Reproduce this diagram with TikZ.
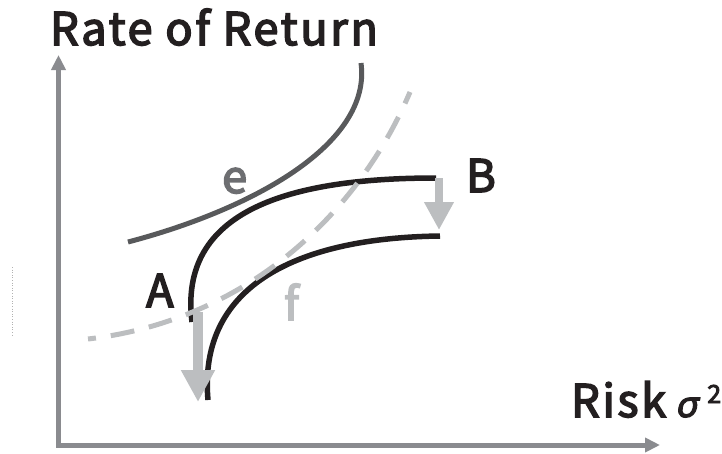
\documentclass[tikz,border=0pt]{standalone}
\usepackage{fontspec}
\setmainfont{Noto Sans CJK JP}
\newfontfamily\labelfont{Noto Sans CJK JP}[FakeBold=3.5, LetterSpace=6]
\newfontfamily\sigmafont{Noto Sans}[FakeSlant=0.2, FakeBold=3.5]
\usetikzlibrary{arrows.meta}

\definecolor{axisgray}{HTML}{8A8B8F}
\definecolor{egray}{HTML}{58595B}
\definecolor{etext}{HTML}{6D6E71}
\definecolor{fgray}{HTML}{BCBEC0}
\definecolor{curveblack}{HTML}{231F20}

\begin{document}
\begin{tikzpicture}[x=1pt,y=-1pt,
    axis/.style={axisgray, line width=5pt, -{Triangle[length=15pt,width=14pt]}},
    frontier/.style={curveblack, line width=5.5pt},
    shift arrow/.style={fgray, line width=10pt, -{Triangle[length=32pt,width=32pt]}},
    lbl/.style={inner sep=0pt, anchor=base west, text=curveblack, font=\labelfont\fontsize{45}{50}\selectfont}]
        \useasboundingbox (0,0) rectangle (722,453);

        % axes
        \coordinate (O) at (58.5,443);
        \coordinate (Y) at (58.5,55);
        \coordinate (X0) at (56,445);
        \coordinate (X) at (660,445);
        \draw[axis] (O) -- (Y);
        \draw[axis] (X0) -- (X);

        % stray guide mark
        \coordinate (g1) at (12,267);
        \coordinate (g2) at (12,336);
        \draw[gray!60, line width=0.6pt, dotted] (g1) -- (g2);

        % indifference curve e
        \coordinate (e1) at (128,242);
        \coordinate (e2) at (361,63);
        \draw[egray, line width=5pt] (e1) .. controls (250,210) and (372,145) .. (e2);

        % frontiers
        \coordinate (A1) at (192,322);
        \coordinate (B1) at (436,178);
        \coordinate (A2) at (208,400);
        \coordinate (B2) at (440,236);
        \draw[frontier] (A1) .. controls (178,210) and (290,178) .. (B1);
        \draw[frontier] (A2) .. controls (198,290) and (290,238) .. (B2);

        % curve f
        \coordinate (f1) at (88,339);
        \coordinate (f2) at (410,92);
        \draw[fgray, line width=5pt, dash pattern=on 24pt off 15pt, dash phase=16pt]
            (f1) .. controls (250,320) and (360,210) .. (f2);

        % shifts
        \coordinate (Atop) at (198,312);
        \coordinate (Atip) at (198,402);
        \coordinate (Btop) at (439,178);
        \coordinate (Btip) at (439,230);
        \draw[shift arrow] (Atop) -- (Atip);
        \draw[fgray, line width=8pt, -{Triangle[length=28pt,width=28pt]}] (Btop) -- (Btip);

        % labels
        \node[lbl] (title) at (50,45) {Rate of Return};
        \node[lbl] (risk) at (571,417) {Risk\kern9pt{\sigmafont\fontsize{36}{40}\selectfont σ}\kern10pt\raisebox{14pt}{\fontsize{25}{28}\selectfont 2}};
        \node[lbl] (A) at (146,307) {A};
        \node[lbl] (B) at (466,192) {B};
        \node[lbl, text=etext] (e) at (222,193) {e};
        \node[lbl, text=fgray] (f) at (284,320) {f};
\end{tikzpicture}
\end{document}
